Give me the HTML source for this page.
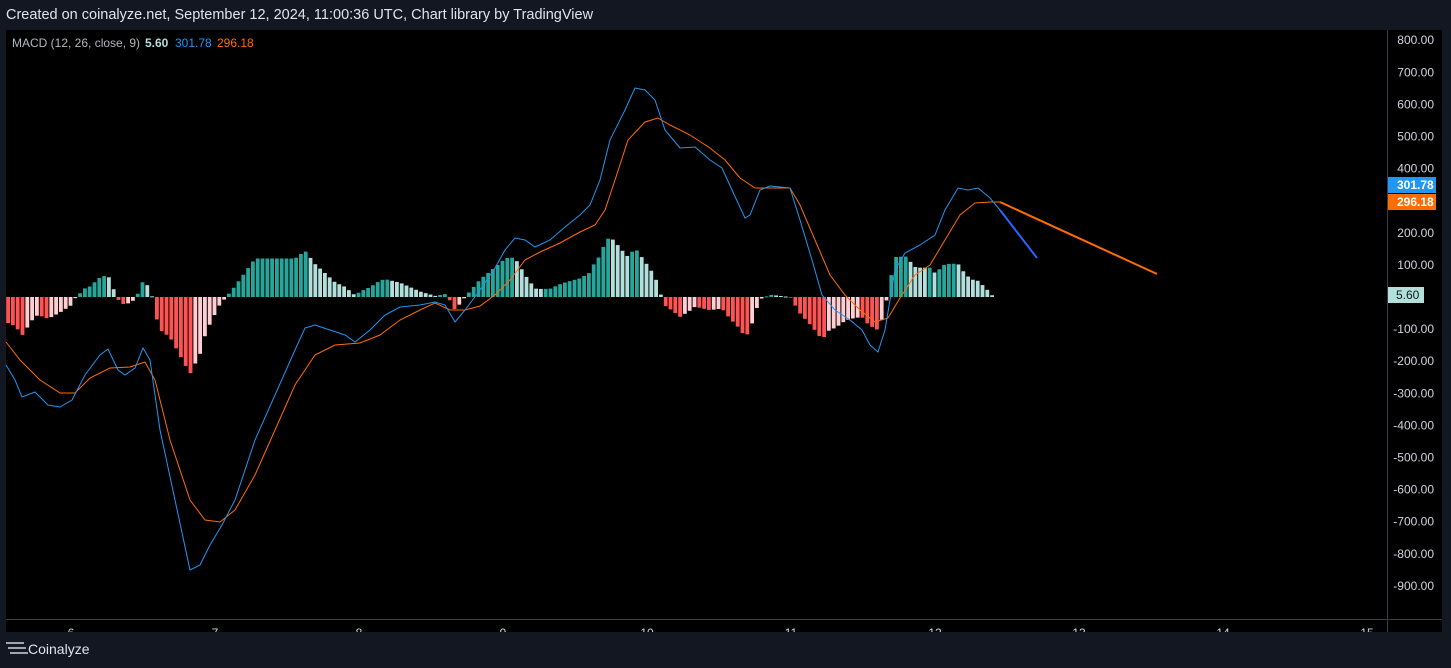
<!DOCTYPE html>
<html><head><meta charset="utf-8"><style>
body{margin:0;background:#131722;width:1451px;height:668px;overflow:hidden;font-family:"Liberation Sans",sans-serif}
</style></head><body>
<svg id="s" width="1451" height="668" xmlns="http://www.w3.org/2000/svg" style="position:absolute;left:0;top:0">
<defs><clipPath id="cp"><rect x="0" y="0" width="1451" height="632"/></clipPath></defs>
<rect x="0" y="0" width="1451" height="668" fill="#131722"/>
<rect x="6" y="30" width="1436" height="602" fill="#000"/>
<line x1="1387.5" y1="30" x2="1387.5" y2="632" stroke="#3a3d45"/>
<line x1="6" y1="619.5" x2="1442" y2="619.5" stroke="#3a3d45"/>
<text x="6" y="19" fill="#e0e3eb" font-size="14.5">Created on coinalyze.net, September 12, 2024, 11:00:36 UTC, Chart library by TradingView</text>
<text x="12" y="47" fill="#b2b5be" font-size="12">MACD (12, 26, close, 9)</text>
<text x="145" y="47" fill="#b2dfdb" font-size="12" font-weight="bold">5.60</text>
<text x="175" y="47" fill="#2196f3" font-size="12">301.78</text>
<text x="217" y="47" fill="#ff6d00" font-size="12">296.18</text>
<g id="ax" fill="#d1d4dc" font-size="12" clip-path="url(#cp)"></g>
<g id="hist"></g>
<polyline id="sig" fill="none" stroke="#ff6d00" stroke-width="1"/>
<polyline id="mac" fill="none" stroke="#2196f3" stroke-width="1"/>
<line x1="1000" y1="202" x2="1157" y2="274" stroke="#ff6d00" stroke-width="2"/>
<line x1="1000" y1="210" x2="1037" y2="258" stroke="#2962ff" stroke-width="2"/>
<rect x="1388" y="177" width="48" height="16" fill="#2196f3"/>
<text x="1397" y="189" fill="#fff" font-size="12" font-weight="bold">301.78</text>
<rect x="1388" y="194" width="48" height="16" fill="#ff6d00"/>
<text x="1397" y="206" fill="#fff" font-size="12" font-weight="bold">296.18</text>
<rect x="1388" y="287" width="36" height="16" fill="#b2dfdb"/>
<text x="1396" y="299" fill="#131722" font-size="12">5.60</text>
<g stroke="#d1d4dc" stroke-width="1.5"><line x1="6" y1="643" x2="24" y2="643"/><line x1="8" y1="648" x2="26" y2="648"/><line x1="10" y1="653" x2="28" y2="653"/></g>
<text x="28" y="654" fill="#e0e3eb" font-size="14">Coinalyze</text>
</svg>
<script>
var ns="http://www.w3.org/2000/svg",ax=document.getElementById('ax');
function t(x,y,s,a){var e=document.createElementNS(ns,'text');e.setAttribute('x',x);e.setAttribute('y',y);if(a)e.setAttribute('text-anchor',a);e.textContent=s;ax.appendChild(e);}
for(var v=800;v>=-900;v-=100){if(v==0||v==300)continue;var y=297-v*0.321;t(1434,y+4,(v<0?'-':'')+Math.abs(v).toFixed(2),'end');}
for(var d=6;d<=15;d++)t(71+(d-6)*144,637,d,'middle');
var M=[[6,365],[15,380],[22,397],[35,392],[48,405],[60,407],[72,400],[85,375],[100,355],[108,349],[118,370],[125,375],[135,368],[143,348],[150,360],[160,430],[175,500],[190,570],[200,565],[210,545],[222,525],[235,500],[255,440],[275,395],[295,350],[305,328],[315,325],[330,330],[345,335],[355,342],[370,330],[385,315],[400,307],[420,305],[435,302],[445,305],[455,322],[465,310],[480,290],[495,268],[505,250],[515,238],[525,240],[535,247],[550,240],[565,227],[580,215],[590,205],[600,180],[610,140],[625,110],[635,88],[645,90],[655,100],[665,130],[680,148],[695,147],[710,160],[722,168],[732,190],[745,218],[750,215],[760,190],[770,186],[790,188],[800,220],[812,260],[822,295],[835,310],[850,320],[862,330],[870,345],[878,352],[885,330],[895,270],[905,253],[920,245],[935,235],[945,210],[958,188],[968,190],[978,188],[990,198],[1000,210]];
var S=[[6,342],[20,360],[40,380],[60,393],[75,393],[90,378],[110,368],[130,367],[145,362],[155,380],[170,440],[190,500],[205,520],[220,522],[235,510],[255,475],[275,430],[295,385],[315,355],[335,345],[360,343],[380,335],[400,320],[420,310],[435,303],[450,310],[465,310],[480,306],[495,295],[510,280],[525,260],[540,252],[560,243],[580,232],[595,225],[605,210],[615,180],[628,140],[645,122],[658,118],[670,125],[690,135],[710,148],[725,160],[740,178],[755,188],[770,188],[790,188],[800,205],[815,240],[830,275],[845,295],[860,310],[875,322],[888,318],[900,298],[915,275],[930,265],[945,240],[960,215],[975,203],[990,202],[1000,202]];
function pts(a){return a.map(function(p){return p.join(',')}).join(' ')}
document.getElementById('mac').setAttribute('points',pts(M));
document.getElementById('sig').setAttribute('points',pts(S));
function it(a,x){for(var i=0;i<a.length-1;i++){if(x>=a[i][0]&&x<=a[i+1][0]){var f=(x-a[i][0])/(a[i+1][0]-a[i][0]);return a[i][1]+f*(a[i+1][1]-a[i][1]);}}return a[a.length-1][1];}
var h=document.getElementById('hist'),prev=0;
for(var x=8;x<=996;x+=4.8){var v=(it(S,x)-it(M,x))*1.1;var c;
if(v>=0)c=v>=prev?'#26a69a':'#b2dfdb';else c=v<prev?'#ff5252':'#ffcdd2';prev=v;
var r=document.createElementNS(ns,'rect');r.setAttribute('x',x-1.8);r.setAttribute('width',3.8);
var y0=297;if(v>=0){r.setAttribute('y',y0-v);r.setAttribute('height',Math.max(v,1));}else{r.setAttribute('y',y0);r.setAttribute('height',-v);}
r.setAttribute('fill',c);h.appendChild(r);}
</script>
</body></html>
